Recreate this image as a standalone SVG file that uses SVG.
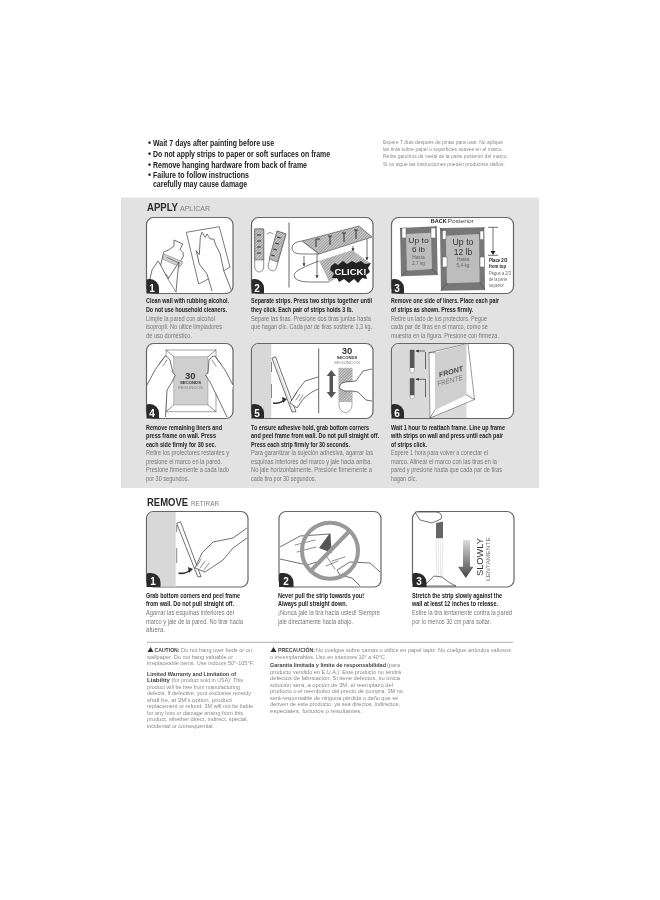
<svg xmlns="http://www.w3.org/2000/svg" width="660" height="900" viewBox="0 0 660 900">
<style>
text{font-family:"Liberation Sans Narrow","Liberation Sans",Arial,sans-serif}
.b{font-size:7.300px;font-weight:700;fill:#222}
.s{font-size:7.300px;fill:#777}
.t{font-size:8.800px;font-weight:700;fill:#222}
.e{font-size:6px;fill:#8a8a8a}
.h{font-size:10.800px;font-weight:700;fill:#2a2a2a;font-family:"Liberation Sans",Arial,sans-serif}
.hs{font-size:7px;fill:#808080;font-family:"Liberation Sans",Arial,sans-serif}
.fb{font-size:5.600px;font-weight:700;fill:#444}
.f{font-size:5.600px;fill:#888}
.p{fill:#fff;stroke:#666;stroke-width:1.200}
.bd{fill:#2b2b2b}
.n{font-size:10px;font-weight:700;fill:#fff;text-anchor:middle}
.l{fill:none;stroke:#444;stroke-width:.6;stroke-linejoin:round;stroke-linecap:round}
.hw{fill:#fff;stroke:#333;stroke-width:.7;stroke-linejoin:round}
.w{fill:#fff;stroke:#666;stroke-width:.5}
.ar{fill:none;stroke:#333;stroke-width:.7;marker-end:url(#ah)}
.big{fill:#333;text-anchor:middle;font-family:"Liberation Sans",Arial,sans-serif}
.mid{font-size:4.800px;fill:#666;text-anchor:middle;font-family:"Liberation Sans",Arial,sans-serif}
.sec{font-size:4px;font-weight:700;fill:#333;font-family:"Liberation Sans",Arial,sans-serif}
.seg{font-size:4px;fill:#888;font-family:"Liberation Sans",Arial,sans-serif}
.thirty{font-size:9.500px;font-weight:700;fill:#333;font-family:"Liberation Sans",Arial,sans-serif}
.sm{font-size:5.200px;font-weight:700;fill:#222}
.sm2{font-size:5.200px;fill:#666}
.m{stroke:#333;stroke-width:1;fill:none}
</style>
<defs>
<pattern id="hatch" width="2" height="2" patternUnits="userSpaceOnUse" patternTransform="rotate(45)"><rect width="2" height="2" fill="#d2d2d2"/><rect width=".8" height="2" fill="#8a8a8a"/></pattern>
<marker id="ah" markerWidth="5" markerHeight="5" refX="4" refY="2.500" orient="auto"><path d="M0 .4L4.500 2.500L0 4.600Z" fill="#333"/></marker>
<linearGradient id="ag" x1="0" y1="0" x2="0" y2="1"><stop offset="0" stop-color="#ddd"/><stop offset="1" stop-color="#444"/></linearGradient>
<filter id="soft" filterUnits="userSpaceOnUse" x="0" y="0" width="660" height="900"><feGaussianBlur stdDeviation=".35"/></filter>
</defs>
<rect width="660" height="900" fill="#fff"/>
<g id="page" filter="url(#soft)">

<g id="warnings">
<text class="t" x="148" y="146">•</text><text class="t" x="153" y="146" textLength="121" lengthAdjust="spacingAndGlyphs">Wait 7 days after painting before use</text>
<text class="t" x="148" y="157">•</text><text class="t" x="153" y="157" textLength="177" lengthAdjust="spacingAndGlyphs">Do not apply strips to paper or soft surfaces on frame</text>
<text class="t" x="148" y="168">•</text><text class="t" x="153" y="168" textLength="154" lengthAdjust="spacingAndGlyphs">Remove hanging hardware from back of frame</text>
<text class="t" x="148" y="178">•</text><text class="t" x="153" y="178" textLength="96" lengthAdjust="spacingAndGlyphs">Failure to follow instructions</text>
<text class="t" x="153" y="187" textLength="94" lengthAdjust="spacingAndGlyphs">carefully may cause damage</text>
<text class="e" x="383" y="143.500" textLength="120" lengthAdjust="spacingAndGlyphs">Espere 7 días después de pintar para usar. No aplique</text>
<text class="e" x="383" y="151" textLength="120" lengthAdjust="spacingAndGlyphs">las tiras sobre papel o superficies suaves en el marco.</text>
<text class="e" x="383" y="158" textLength="125" lengthAdjust="spacingAndGlyphs">Retire ganchos de metal de la parte posterior del marco.</text>
<text class="e" x="383" y="165.500" textLength="122" lengthAdjust="spacingAndGlyphs">Si no sigue las instrucciones pueden producirse daños.</text>
</g>

<rect id="apply-bg" x="121" y="197.500" width="418" height="290.500" fill="#e2e2e2"/>
<g id="apply-heading">
<text class="h" x="147" y="211" textLength="31" lengthAdjust="spacingAndGlyphs">APPLY</text>
<text class="hs" x="180" y="211" textLength="30" lengthAdjust="spacingAndGlyphs">APLICAR</text>
</g>

<g id="apply-1">
<rect class="p" x="146.500" y="217.500" width="86.500" height="76" rx="7"/>
<path d="M186.300 232.300L219.300 226.700L230 267.300L198.700 284Z" fill="#fff" stroke="#444" stroke-width=".7"/>
<path class="hw" d="M212 291L207 274L199.300 264L196.300 250.700L199.300 254.700L200.300 237.300L202 232.300L205.300 237.300L207 234L210.300 239L213.700 239L216 245.700L220.300 254L223.700 270.700L231.300 290"/>
<path class="hw" d="M174 240L182.700 244L180 249.500Q184 252 183.500 256L170 279L160 268L163.700 252Q170 250 174 246Z"/>
<path d="M164.500 254L183 262L180 267L162.500 259Z" fill="#d0d0d0" stroke="#555" stroke-width=".4"/>
<path class="l" d="M167 257.500L178 262.500" stroke-width="1"/>
<path class="hw" d="M147 292L152 270L158 261L160 264L168 279L179 262L178 270L176 292"/>
<path class="l" d="M168 279L176 292"/>
<path class="bd" d="M146.500 293.500V281A2 2 0 0 1 148.500 279H150A9 9 0 0 1 159 288V293.500Z"/>
<text class="n" x="152" y="291.500">1</text>
<text class="b" x="146" y="303" textLength="83" lengthAdjust="spacingAndGlyphs">Clean wall with rubbing alcohol.</text>
<text class="b" x="146" y="312" textLength="81" lengthAdjust="spacingAndGlyphs">Do not use household cleaners.</text>
<text class="s" x="146" y="320.700" textLength="69" lengthAdjust="spacingAndGlyphs">Limpie la pared con alcohol</text>
<text class="s" x="146" y="329" textLength="76" lengthAdjust="spacingAndGlyphs">isopropil. No ultice limpiadores</text>
<text class="s" x="146" y="338" textLength="46" lengthAdjust="spacingAndGlyphs">de uso doméstico.</text>
</g>

<g id="apply-2">
<rect class="p" x="251.500" y="217.500" width="121.500" height="76" rx="7"/>
<path d="M289 222.500V287.500" stroke="#666" stroke-width="1"/>
<path d="M254.700 229H263.700V267A4.500 5 0 0 1 254.700 267Z" fill="#fff" stroke="#444" stroke-width=".6"/>
<path d="M254.700 229H263.700V260H254.700Z" fill="url(#hatch)" stroke="#444" stroke-width=".5"/>
<path class="m" d="M257 235H261M257 241H261M257 247H261M257 253H261"/>
<path d="M277 231L286 234L276 269A4.500 5 0 0 1 268 266Z" fill="#fff" stroke="#444" stroke-width=".6"/>
<path d="M277 231L286 234L277.500 262L269 259Z" fill="url(#hatch)" stroke="#444" stroke-width=".5"/>
<path class="m" d="M277 237L281 238M275 243L279 244M273 249L277 250M271 255L275 256"/>
<path class="l" d="M267 234Q270 231 273 234"/>
<path d="M302 241L359 226L372 237L319 254Z" fill="url(#hatch)" stroke="#444" stroke-width=".6"/>
<path d="M302 241Q292 242 292 248Q292 254 302 254L319 254Z" fill="#fff" stroke="#444" stroke-width=".7"/>
<path class="m" d="M316 239H320M316 239V247M328 236H332M330 236V245M342 233H346M344 233V242M354 230H358M356 230V239"/>
<path d="M319 261L352 250L370 263L329 282Z" fill="url(#hatch)"/>
<path d="M319 261Q294 270 294 275Q294 282 310 282L329 282" fill="#fff" stroke="#444" stroke-width=".7"/>
<path class="ar" d="M304 256V266"/><path class="ar" d="M317 254V278"/><path class="ar" d="M353 246V251"/><path class="ar" d="M367 239V260"/>
<path d="M331 266L335 263L338 265L343 261L347 264L352 261L356 263L361 261L365 264L371 263L368 268L370 272L366 275L367 279L362 278L358 283L354 279L349 283L344 279L339 282L337 278L332 278L334 273L330 270Z" fill="#222"/>
<text x="350.500" y="275" font-size="8.500" font-weight="700" fill="#fff" text-anchor="middle" textLength="32" lengthAdjust="spacingAndGlyphs">CLICK!</text>
<path class="bd" d="M251.500 293.500V281A2 2 0 0 1 253.500 279H255A9 9 0 0 1 264 288V293.500Z"/>
<text class="n" x="257" y="291.500">2</text>
<text class="b" x="251" y="303" textLength="121" lengthAdjust="spacingAndGlyphs">Separate strips. Press two strips together until</text>
<text class="b" x="251" y="312" textLength="102" lengthAdjust="spacingAndGlyphs">they click. Each pair of strips holds 3 lb.</text>
<text class="s" x="251" y="320.700" textLength="120" lengthAdjust="spacingAndGlyphs">Separe las tiras. Presione dos tiras juntas hasta</text>
<text class="s" x="251" y="329" textLength="121" lengthAdjust="spacingAndGlyphs">que hagan clic. Cada par de tiras sostiene 1,3 kg.</text>
</g>

<g id="apply-3">
<rect class="p" x="391.500" y="217.500" width="122" height="76" rx="7"/>
<text x="430.700" y="223.300" font-size="5.500" font-weight="700" fill="#222" textLength="16" lengthAdjust="spacingAndGlyphs">BACK</text>
<text x="447.700" y="223.300" font-size="5.500" fill="#444" textLength="26" lengthAdjust="spacingAndGlyphs">Posterior</text>
<path d="M400 228L436.700 226.300L437.700 275L401 276.300Z" fill="#777"/>
<path d="M406 234L431 232.700L432 269L407 270.700Z" fill="#bdbdbd"/>
<path class="l" d="M400 228L406 234M436.700 226.300L431 232.700M437.700 275L432 269M401 276.300L407 270.700" stroke="#999"/>
<path d="M440 228L484.300 227.300L485 290L441 290.700Z" fill="#777"/>
<path d="M445.700 235.700L479 234L479.700 282.300L447 283.300Z" fill="#bdbdbd"/>
<path class="l" d="M440 228L445.700 235.700M484.300 227.300L479 234M485 290L479.700 282.300M441 290.700L447 283.300" stroke="#999"/>
<rect class="w" x="402" y="228" width="4" height="10"/><rect class="w" x="431" y="228" width="4.500" height="10"/>
<rect class="w" x="442.500" y="230.700" width="3.500" height="8.500"/><rect class="w" x="480" y="231" width="3.500" height="8.500"/>
<rect class="w" x="442.500" y="257" width="4.500" height="10"/><rect class="w" x="480" y="257" width="4.500" height="10"/>
<text class="big" x="418.500" y="243.300" font-size="8" textLength="20.500" lengthAdjust="spacingAndGlyphs">Up to</text><text class="big" x="418.500" y="252" font-size="8">6 lb</text>
<text class="mid" x="418.500" y="258.500">Hasta</text><text class="mid" x="418.500" y="264.500">2,7 kg</text>
<text class="big" x="463" y="245" font-size="8.500" textLength="21" lengthAdjust="spacingAndGlyphs">Up to</text><text class="big" x="463" y="254.800" font-size="8.500">12 lb</text>
<text class="mid" x="463" y="260.700">Hasta</text><text class="mid" x="463" y="266.700">5,4 kg</text>
<path d="M488 227.300H498M493 227.300V253" fill="none" stroke="#333" stroke-width=".7"/>
<path d="M490.500 251H495.500L493 255Z" fill="#222"/><path d="M488 255.300H498" stroke="#333" stroke-width=".7"/>
<text class="sm" x="489" y="261.700" textLength="18.300" lengthAdjust="spacingAndGlyphs">Place 2/3</text>
<text class="sm" x="489" y="267.700" textLength="17" lengthAdjust="spacingAndGlyphs">from top</text>
<text class="sm2" x="489" y="275" textLength="22" lengthAdjust="spacingAndGlyphs">Pegue a 2/3</text>
<text class="sm2" x="489" y="281" textLength="18" lengthAdjust="spacingAndGlyphs">de la parte</text>
<text class="sm2" x="489" y="286.700" textLength="15" lengthAdjust="spacingAndGlyphs">superior</text>
<path class="bd" d="M391.500 293.500V281A2 2 0 0 1 393.500 279H395A9 9 0 0 1 404 288V293.500Z"/>
<text class="n" x="397" y="291.500">3</text>
<text class="b" x="391" y="303" textLength="108" lengthAdjust="spacingAndGlyphs">Remove one side of liners. Place each pair</text>
<text class="b" x="391" y="312" textLength="82" lengthAdjust="spacingAndGlyphs">of strips as shown. Press firmly.</text>
<text class="s" x="391" y="320.700" textLength="96" lengthAdjust="spacingAndGlyphs">Retire un lado de los protectors. Pegue</text>
<text class="s" x="391" y="329" textLength="97" lengthAdjust="spacingAndGlyphs">cada par de tiras en el marco, como se</text>
<text class="s" x="391" y="338" textLength="108" lengthAdjust="spacingAndGlyphs">muestra en la figura. Presione con firmeza.</text>
</g>

<g id="apply-4">
<rect class="p" x="146.500" y="343.500" width="86.500" height="75" rx="7"/>
<path d="M166 350H216V411.700H166Z" fill="#fff" stroke="#666" stroke-width=".6"/>
<path d="M173.700 356.700H208V405H173.700Z" fill="#cfcfcf" stroke="#777" stroke-width=".4"/>
<path class="l" d="M166 350L173.700 356.700M216 350L208 356.700M166 411.700L173.700 405M216 411.700L208 405"/>
<path class="hw" d="M147 385L155 370L165 356L167 356.500L170 360L173 373L175.300 375L172 382L167 390L165.500 417"/>
<path class="hw" d="M233 385L225 370L215 356L212 356.500L209 360L208 373L205.500 375L210 382L214 390L227 417"/>
<path class="l" d="M159 364L164 358M163 366L167 360M221 364L216 358M216 366L212 360"/>
<text class="thirty" x="190.300" y="378.500" text-anchor="middle">30</text>
<text class="sec" x="180" y="384" textLength="21" lengthAdjust="spacingAndGlyphs">SECONDS</text>
<text class="seg" x="177.700" y="389" textLength="25.300" lengthAdjust="spacingAndGlyphs">SEGUNDOS</text>
<path class="bd" d="M146.500 418.500V406A2 2 0 0 1 148.500 404H150A9 9 0 0 1 159 413V418.500Z"/>
<text class="n" x="152" y="416.500">4</text>
<text class="b" x="146" y="429.500" textLength="76" lengthAdjust="spacingAndGlyphs">Remove remaining liners and</text>
<text class="b" x="146" y="438" textLength="70" lengthAdjust="spacingAndGlyphs">press frame on wall. Press</text>
<text class="b" x="146" y="447" textLength="70" lengthAdjust="spacingAndGlyphs">each side firmly for 30 sec.</text>
<text class="s" x="146" y="455" textLength="83" lengthAdjust="spacingAndGlyphs">Retire los protectores restantes y</text>
<text class="s" x="146" y="463.500" textLength="76" lengthAdjust="spacingAndGlyphs">presione el marco en la pared.</text>
<text class="s" x="146" y="472" textLength="83" lengthAdjust="spacingAndGlyphs">Presione firmemente a cada lado</text>
<text class="s" x="146" y="480.500" textLength="43" lengthAdjust="spacingAndGlyphs">por 30 segundos.</text>
</g>

<g id="apply-5">
<rect class="p" x="251.500" y="343.500" width="121.500" height="75" rx="7"/>
<path d="M252 350.500A6.500 6.500 0 0 1 258.500 344H271.300V418H258.500A6.500 6.500 0 0 1 252 411.500Z" fill="#d8d8d8"/>
<path d="M271.500 362V372M271.500 384V398" stroke="#555" stroke-width=".7"/>
<path d="M272 358.300L275.500 356.700L296 411.700L292 412Z" fill="#fff" stroke="#333" stroke-width=".7"/>
<path d="M273.500 358L293.500 412" stroke="#999" stroke-width=".4"/>
<path d="M273 403Q280 404 284 400" fill="none" stroke="#333" stroke-width="1.600"/><path d="M282 397L287 399L283 403Z" fill="#333"/>
<path class="hw" d="M318 377L305 381L298 390L290 403L297 408L304 398L312 392L318 389"/>
<path class="l" d="M297 392L293 398M300 394L296 400M303 395L299 401"/>
<path d="M318.700 348.300V413.300" stroke="#666" stroke-width="1"/>
<path d="M339 368.300H352V405A6.500 7.500 0 0 1 339 405Z" fill="#fff" stroke="#555" stroke-width=".5"/>
<path d="M339 368.300H352V402H339Z" fill="url(#hatch)"/>
<path d="M331.300 370L336 376H333V392H336L331.300 398L326.700 392H329.500V376H326.700Z" fill="#555"/>
<path class="hw" d="M372 369L363 371L356 381L345 382Q338 384 340 389Q344 392 352 391L358 392L366 400L372 401"/>
<text class="thirty" x="347" y="354" text-anchor="middle">30</text>
<text class="sec" x="336.700" y="359.300" textLength="20.600" lengthAdjust="spacingAndGlyphs">SECONDS</text>
<text class="seg" x="334" y="364" textLength="26" lengthAdjust="spacingAndGlyphs">SEGUNDOS</text>
<path class="bd" d="M251.500 418.500V406A2 2 0 0 1 253.500 404H255A9 9 0 0 1 264 413V418.500Z"/>
<text class="n" x="257" y="416.500">5</text>
<text class="b" x="251" y="429.500" textLength="118" lengthAdjust="spacingAndGlyphs">To ensure adhesive hold, grab bottom corners</text>
<text class="b" x="251" y="438" textLength="128" lengthAdjust="spacingAndGlyphs">and peel frame from wall. Do not pull straight off.</text>
<text class="b" x="251" y="447" textLength="99" lengthAdjust="spacingAndGlyphs">Press each strip firmly for 30 seconds.</text>
<text class="s" x="251" y="455" textLength="122" lengthAdjust="spacingAndGlyphs">Para garantizar la sujeción adhesiva, agarrar las</text>
<text class="s" x="251" y="463.500" textLength="121" lengthAdjust="spacingAndGlyphs">esquinas inferiores del marco y jale hacia arriba.</text>
<text class="s" x="251" y="472" textLength="121" lengthAdjust="spacingAndGlyphs">No jale horizontalmente. Presione firmemente a</text>
<text class="s" x="251" y="480.500" textLength="65" lengthAdjust="spacingAndGlyphs">cada tira por 30 segundos.</text>
</g>

<g id="apply-6">
<rect class="p" x="391.500" y="343.500" width="122" height="75" rx="7"/>
<path d="M392 350.500A6.500 6.500 0 0 1 398.500 344H466.500V418H398.500A6.500 6.500 0 0 1 392 411.500Z" fill="#dadada"/>
<path d="M429 352.700L468 343.500L474.500 399.500L430 418Z" fill="#fff" stroke="#555" stroke-width=".6"/>
<path d="M435 352.700L466.500 344V395L435 410Z" fill="#cfcfcf"/>
<path class="l" d="M429 352.700L435 352.700M430 418L435 410M474.500 399.500L466.500 395"/>
<path d="M425.500 352V369M425.500 379V397" stroke="#555" stroke-width=".9"/>
<path d="M410 350H414.300V370A2.150 3 0 0 1 410 370Z" fill="#fff" stroke="#555" stroke-width=".4"/><rect x="410" y="350" width="4.300" height="18" fill="#555"/>
<path d="M410 378.300H414.300V396A2.150 3 0 0 1 410 396Z" fill="#fff" stroke="#555" stroke-width=".4"/><rect x="410" y="378.300" width="4.300" height="17" fill="#555"/>
<path class="ar" d="M425 351H416"/><path class="ar" d="M425 379.300H416"/>
<text x="451" y="374" font-size="7" font-weight="700" font-style="italic" fill="#444" text-anchor="middle" textLength="25" lengthAdjust="spacingAndGlyphs" transform="rotate(-15 451 372)" style="font-family:'Liberation Sans',sans-serif">FRONT</text>
<text x="450" y="383" font-size="7" font-style="italic" fill="#777" text-anchor="middle" textLength="26" lengthAdjust="spacingAndGlyphs" transform="rotate(-15 450 381)" style="font-family:'Liberation Sans',sans-serif">FRENTE</text>
<path class="bd" d="M391.500 418.500V406A2 2 0 0 1 393.500 404H395A9 9 0 0 1 404 413V418.500Z"/>
<text class="n" x="397" y="416.500">6</text>
<text class="b" x="391" y="429.500" textLength="114" lengthAdjust="spacingAndGlyphs">Wait 1 hour to reattach frame. Line up frame</text>
<text class="b" x="391" y="438" textLength="112" lengthAdjust="spacingAndGlyphs">with strips on wall and press until each pair</text>
<text class="b" x="391" y="447" textLength="36" lengthAdjust="spacingAndGlyphs">of strips click.</text>
<text class="s" x="391" y="455" textLength="97" lengthAdjust="spacingAndGlyphs">Espere 1 hora para volver a conectar el</text>
<text class="s" x="391" y="463.500" textLength="106" lengthAdjust="spacingAndGlyphs">marco. Alinear el marco con las tiras en la</text>
<text class="s" x="391" y="472" textLength="111" lengthAdjust="spacingAndGlyphs">pared y presione hasta que cada par de tiras</text>
<text class="s" x="391" y="480.500" textLength="26" lengthAdjust="spacingAndGlyphs">hagan clic.</text>
</g>

<g id="remove-heading">
<text class="h" x="147" y="506" textLength="41" lengthAdjust="spacingAndGlyphs">REMOVE</text>
<text class="hs" x="191" y="506" textLength="28" lengthAdjust="spacingAndGlyphs">RETIRAR</text>
</g>

<g id="remove-1">
<rect class="p" x="146.500" y="511.500" width="101.500" height="75.500" rx="7"/>
<path d="M147 518.500A6.500 6.500 0 0 1 153.500 512H175.700V586.500H153.500A6.500 6.500 0 0 1 147 580Z" fill="#d8d8d8"/>
<path d="M176.700 525V532M176.700 548V563" stroke="#555" stroke-width=".7"/>
<path d="M176.700 523.300L180.500 521.700L201 576.700L197.700 576.700Z" fill="#fff" stroke="#333" stroke-width=".7"/>
<path d="M178.500 573.300Q186 574 190 570" fill="none" stroke="#333" stroke-width="1.600"/><path d="M188 567L193 569L189 573Z" fill="#333"/>
<path class="hw" d="M247 528L233 538L213 542L202 553L195 568L205 572L223 560L233 548L247 538"/>
<path class="l" d="M201 559L197 566M205 561L200 568M209 563L204 570"/>
<path class="bd" d="M146.500 587V575A2 2 0 0 1 148.500 573H151A9.500 9.500 0 0 1 160.500 582.500V587Z"/>
<text class="n" x="153" y="585">1</text>
<text class="b" x="146" y="597.700" textLength="94" lengthAdjust="spacingAndGlyphs">Grab bottom corners and peel frame</text>
<text class="b" x="146" y="606" textLength="88" lengthAdjust="spacingAndGlyphs">from wall. Do not pull straight off.</text>
<text class="s" x="146" y="615" textLength="88" lengthAdjust="spacingAndGlyphs">Agarrar las esquinas inferiores del</text>
<text class="s" x="146" y="623.500" textLength="97" lengthAdjust="spacingAndGlyphs">marco y jale de la pared. No tirar hacia</text>
<text class="s" x="146" y="632" textLength="19" lengthAdjust="spacingAndGlyphs">afuera.</text>
</g>

<g id="remove-2">
<rect class="p" x="279" y="511.500" width="102" height="75.500" rx="7"/>
<path class="hw" d="M280 547L300 536L330 534L330 549L317 562L307 565L280 559"/>
<path d="M330 533L332 553L319 548Z" fill="#555"/>
<path class="l" d="M295 545L315 540M297 552L316 547"/>
<path class="l" d="M327 557L335 569M332 561L345 557M326 566L338 561"/>
<path class="hw" d="M380 572L370 563L350 562L337 570L340 575L352 578L360 586"/>
<circle cx="330" cy="550.700" r="28" fill="none" stroke="#999" stroke-width="4"/>
<path d="M310 571.700L350 530.500" stroke="#999" stroke-width="4"/>
<path class="bd" d="M279 587V575A2 2 0 0 1 281 573H284A9.500 9.500 0 0 1 293.500 582.500V587Z"/>
<text class="n" x="286" y="585">2</text>
<text class="b" x="278" y="597.700" textLength="86" lengthAdjust="spacingAndGlyphs">Never pull the strip towards you!</text>
<text class="b" x="278" y="606" textLength="69" lengthAdjust="spacingAndGlyphs">Always pull straight down.</text>
<text class="s" x="278" y="615" textLength="102" lengthAdjust="spacingAndGlyphs">¡Nunca jale la tira hacia usted! Siempre</text>
<text class="s" x="278" y="623.500" textLength="75" lengthAdjust="spacingAndGlyphs">jale directamente hacia abajo.</text>
</g>

<g id="remove-3">
<rect class="p" x="412.500" y="511.500" width="101.500" height="75.500" rx="7"/>
<path d="M436 523L443 521.500L443 538L436 538.500Z" fill="#666"/>
<path d="M436 538.500H443L442 577H437Z" fill="#fff" stroke="#bbb" stroke-width=".4"/>
<path d="M438.500 540V576M440.500 540V576" stroke="#ccc" stroke-width=".4"/>
<path class="hw" d="M415 512L420 520L432 523L441 519Q443 516 440 513L436 512Z"/>
<path class="hw" d="M424 586L434 576L442 577L450 583L456 586Z"/>
<path d="M463 540H470V566.700H473.500L465.800 578L458 566.700H463Z" fill="url(#ag)"/>
<text x="483" y="557" font-size="9.500" fill="#333" text-anchor="middle" textLength="38" lengthAdjust="spacingAndGlyphs" transform="rotate(-90 483 557)" style="font-family:'Liberation Sans',sans-serif">SLOWLY</text>
<text x="490" y="559" font-size="6" fill="#777" text-anchor="middle" textLength="44" lengthAdjust="spacingAndGlyphs" transform="rotate(-90 490 559)" style="font-family:'Liberation Sans',sans-serif">LENTAMENTE</text>
<path class="bd" d="M412.500 587V575A2 2 0 0 1 414.500 573H417A9.500 9.500 0 0 1 426.500 582.500V587Z"/>
<text class="n" x="419" y="585">3</text>
<text class="b" x="412" y="597.700" textLength="90" lengthAdjust="spacingAndGlyphs">Stretch the strip slowly against the</text>
<text class="b" x="412" y="606" textLength="86" lengthAdjust="spacingAndGlyphs">wall at least 12 inches to release.</text>
<text class="s" x="412" y="615" textLength="100" lengthAdjust="spacingAndGlyphs">Estire la tira lentamente contra la pared</text>
<text class="s" x="412" y="623.500" textLength="79" lengthAdjust="spacingAndGlyphs">por lo menos 30 cm para soltar.</text>
</g>

<g id="footer">
<path d="M147 642.300H513" stroke="#999" stroke-width=".8"/>
<path d="M147.500 652L150.500 647L153.500 652Z" fill="#333"/>
<text class="fb" x="154.500" y="652" textLength="25" lengthAdjust="spacingAndGlyphs">CAUTION:</text>
<text class="f" x="181" y="652" textLength="71" lengthAdjust="spacingAndGlyphs">Do not hang over beds or on</text>
<text class="f" x="147" y="658.500" textLength="86" lengthAdjust="spacingAndGlyphs">wallpaper. Do not hang valuable or</text>
<text class="f" x="147" y="665" textLength="107" lengthAdjust="spacingAndGlyphs">irreplaceable items. Use indoors 50°-105°F.</text>
<text class="fb" x="147" y="675.500" textLength="89" lengthAdjust="spacingAndGlyphs">Limited Warranty and Limitation of</text>
<text class="fb" x="147" y="682" textLength="23" lengthAdjust="spacingAndGlyphs">Liability</text>
<text class="f" x="171.500" y="682" textLength="71.500" lengthAdjust="spacingAndGlyphs">(for product sold in USA): This</text>
<text class="f" x="147" y="688.500" textLength="93" lengthAdjust="spacingAndGlyphs">product will be free from manufacturing</text>
<text class="f" x="147" y="695" textLength="104" lengthAdjust="spacingAndGlyphs">defects. If defective, your exclusive remedy</text>
<text class="f" x="147" y="701.500" textLength="85" lengthAdjust="spacingAndGlyphs">shall be, at 3M's option, product</text>
<text class="f" x="147" y="708" textLength="106" lengthAdjust="spacingAndGlyphs">replacement or refund. 3M will not be liable</text>
<text class="f" x="147" y="714.500" textLength="96" lengthAdjust="spacingAndGlyphs">for any loss or damage arising from this</text>
<text class="f" x="147" y="721" textLength="101" lengthAdjust="spacingAndGlyphs">product, whether direct, indirect, special,</text>
<text class="f" x="147" y="727.500" textLength="67" lengthAdjust="spacingAndGlyphs">incidental or consequential.</text>
<path d="M270.500 652L273.500 647L276.500 652Z" fill="#333"/>
<text class="fb" x="278" y="652" textLength="37" lengthAdjust="spacingAndGlyphs">PRECAUCIÓN:</text>
<text class="f" x="316" y="652" textLength="195" lengthAdjust="spacingAndGlyphs">No cuelgue sobre camas o utilice en papel tapiz. No cuelgue artículos valiosos</text>
<text class="f" x="270" y="658.500" textLength="115" lengthAdjust="spacingAndGlyphs">o irreemplazables. Uso en interiores 10° a 40°C</text>
<text class="fb" x="270" y="667" textLength="116" lengthAdjust="spacingAndGlyphs">Garantía limitada y límite de responsabilidad</text>
<text class="f" x="387" y="667" textLength="13" lengthAdjust="spacingAndGlyphs">(para</text>
<text class="f" x="270" y="673.500" textLength="131" lengthAdjust="spacingAndGlyphs">producto vendido en E.U.A.): Este producto no tendrá</text>
<text class="f" x="270" y="680" textLength="130" lengthAdjust="spacingAndGlyphs">defectos de fabricación. Si tiene defectos, su única</text>
<text class="f" x="270" y="686.500" textLength="123" lengthAdjust="spacingAndGlyphs">solución será, a opción de 3M, el reemplazo del</text>
<text class="f" x="270" y="693" textLength="133" lengthAdjust="spacingAndGlyphs">producto o el reembolso del precio de compra. 3M no</text>
<text class="f" x="270" y="699.500" textLength="128" lengthAdjust="spacingAndGlyphs">será responsable de ninguna pérdida o daño que se</text>
<text class="f" x="270" y="706" textLength="130" lengthAdjust="spacingAndGlyphs">deriven de este producto, ya sea directos, indirectos,</text>
<text class="f" x="270" y="712.500" textLength="92" lengthAdjust="spacingAndGlyphs">especiales, fortuitos o resultantes.</text>
</g>
</g>
</svg>
